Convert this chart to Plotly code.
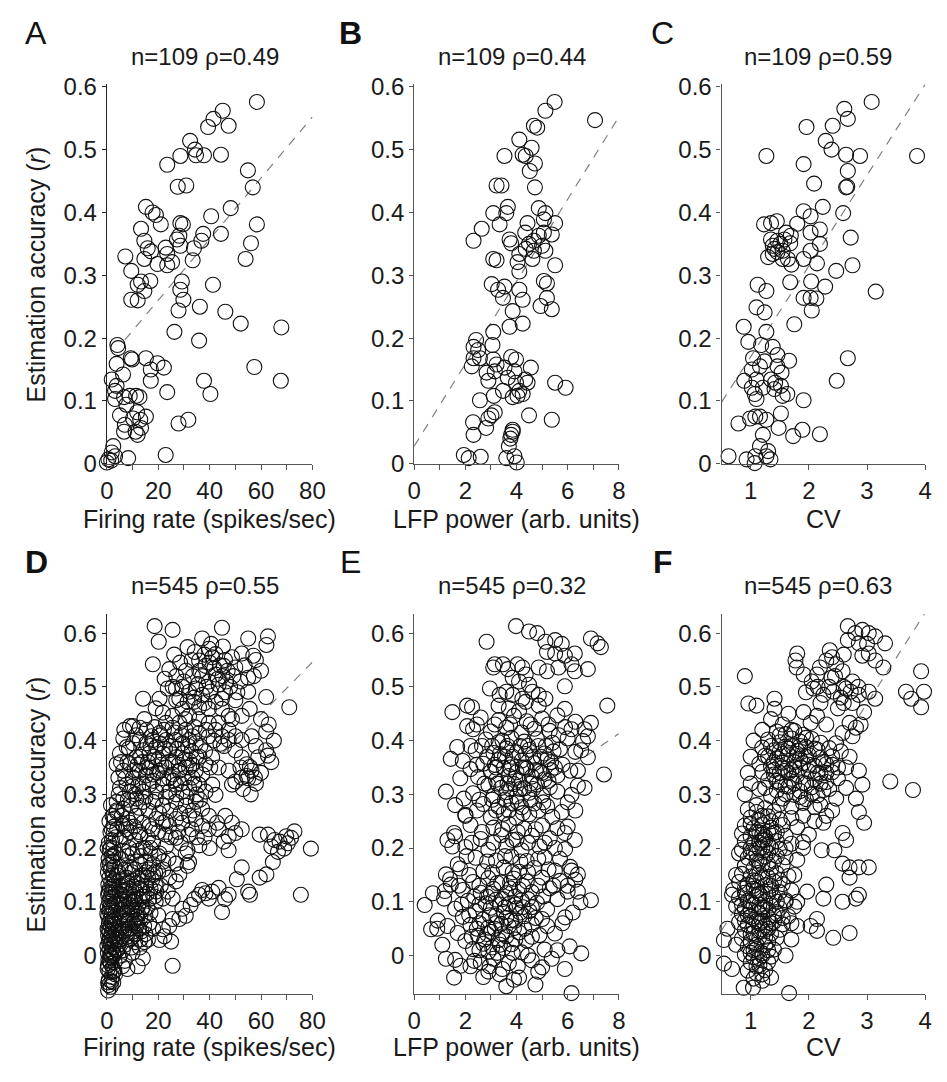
import plotly.graph_objects as go

# ---------------- data ----------------
a_pts = [(58.4,0.576),(45.1,0.562),(41.5,0.549),(47.4,0.538),(39.4,0.536),(32.4,0.514),(34.3,0.500),(34.7,0.491),(37.8,0.491),(28.6,0.490),(44.4,0.492),(23.5,0.476),(54.9,0.467),(27.6,0.441),(30.9,0.443),(56.8,0.440),(15.2,0.409),(17.8,0.400),(19.1,0.396),(48.2,0.407),(40.6,0.394),(21.0,0.381),(13.3,0.374),(28.6,0.383),(29.6,0.381),(58.4,0.381),(44.4,0.366),(37.5,0.366),(28.2,0.363),(27.3,0.357),(14.6,0.355),(36.8,0.355),(56.1,0.351),(15.9,0.343),(22.9,0.344),(33.9,0.343),(17.2,0.338),(28.6,0.347),(7.2,0.330),(14.6,0.326),(54.0,0.326),(33.4,0.324),(19.7,0.318),(23.5,0.316),(25.4,0.321),(9.5,0.307),(13.3,0.290),(16.9,0.291),(29.2,0.290),(41.3,0.285),(12.0,0.285),(14.6,0.275),(28.6,0.277),(9.5,0.261),(12.0,0.260),(29.8,0.261),(36.2,0.250),(27.9,0.244),(46.1,0.242),(52.1,0.223),(67.9,0.217),(26.3,0.210),(35.9,0.196),(4.1,0.189),(4.4,0.184),(9.3,0.168),(9.8,0.166),(15.2,0.168),(19.7,0.160),(3.8,0.159),(22.2,0.153),(17.1,0.150),(57.4,0.154),(17.1,0.132),(1.9,0.134),(3.8,0.124),(37.8,0.132),(67.7,0.132),(3.2,0.116),(23.5,0.114),(40.3,0.111),(3.2,0.103),(6.7,0.106),(8.9,0.108),(11.4,0.108),(12.7,0.106),(5.1,0.077),(10.2,0.072),(15.2,0.075),(13.0,0.070),(7.0,0.062),(27.9,0.064),(31.7,0.070),(6.7,0.051),(11.2,0.051),(13.3,0.057),(12.0,0.046),(2.5,0.028),(8.3,0.009),(22.9,0.014),(1.9,0.018),(0.6,0.007),(0.0,0.002),(1.7,0.005),(3.2,0.012),(6.3,0.142),(7.6,0.094),(23.5,0.334),(11.8,0.082)]

b_pts = [(5.49,0.576),(5.13,0.562),(7.07,0.547),(4.68,0.538),(4.81,0.535),(4.11,0.516),(4.59,0.503),(4.24,0.492),(4.36,0.490),(3.53,0.490),(4.72,0.478),(4.52,0.466),(4.72,0.440),(3.22,0.443),(3.41,0.443),(4.87,0.407),(3.66,0.409),(5.13,0.399),(3.09,0.399),(3.60,0.399),(4.43,0.383),(5.51,0.383),(5.07,0.389),(3.34,0.381),(2.64,0.374),(4.34,0.368),(5.38,0.365),(3.73,0.357),(2.32,0.355),(4.87,0.363),(4.68,0.355),(3.79,0.351),(4.49,0.350),(5.00,0.347),(4.36,0.342),(5.13,0.339),(4.11,0.334),(4.62,0.326),(3.09,0.326),(3.22,0.324),(4.04,0.321),(5.51,0.316),(4.11,0.306),(5.07,0.291),(5.19,0.287),(3.03,0.286),(3.28,0.277),(3.53,0.282),(4.11,0.277),(4.24,0.261),(3.47,0.264),(5.19,0.264),(4.94,0.251),(5.38,0.246),(3.85,0.243),(4.24,0.223),(3.73,0.218),(3.09,0.210),(2.42,0.197),(2.32,0.186),(3.06,0.189),(2.32,0.168),(2.57,0.168),(3.79,0.170),(3.98,0.166),(3.09,0.166),(3.22,0.158),(4.56,0.153),(2.25,0.155),(2.83,0.145),(3.15,0.147),(2.90,0.132),(3.66,0.137),(3.98,0.129),(5.51,0.129),(5.92,0.121),(3.47,0.116),(4.11,0.116),(4.24,0.111),(3.85,0.106),(4.04,0.108),(2.57,0.101),(3.11,0.108),(3.02,0.077),(3.15,0.082),(4.49,0.077),(5.38,0.070),(2.30,0.066),(2.90,0.072),(2.81,0.057),(2.32,0.046),(3.85,0.054),(3.79,0.046),(3.76,0.040),(3.70,0.028),(1.94,0.014),(2.13,0.009),(2.60,0.011),(3.60,0.009),(3.92,0.012),(4.01,0.002),(4.43,0.129),(3.92,0.147),(4.34,0.134),(4.68,0.339),(5.07,0.368),(2.50,0.181),(3.53,0.153),(3.85,0.051)]

c_pts = [(3.08,0.576),(2.61,0.565),(2.67,0.549),(2.41,0.538),(1.96,0.536),(2.29,0.514),(2.39,0.500),(2.64,0.492),(2.88,0.490),(3.86,0.490),(1.27,0.490),(1.91,0.477),(2.67,0.466),(2.64,0.440),(2.66,0.441),(2.09,0.446),(2.24,0.409),(1.91,0.402),(2.03,0.394),(2.59,0.399),(1.23,0.381),(1.35,0.383),(1.45,0.386),(1.80,0.382),(2.19,0.373),(2.72,0.360),(1.61,0.368),(1.69,0.363),(1.35,0.357),(1.46,0.355),(1.58,0.357),(1.38,0.347),(1.51,0.350),(1.68,0.351),(2.19,0.350),(1.41,0.342),(1.55,0.339),(2.03,0.339),(1.30,0.329),(1.38,0.334),(1.46,0.337),(1.64,0.326),(1.91,0.326),(1.70,0.317),(2.14,0.319),(2.75,0.316),(2.47,0.307),(1.12,0.285),(1.68,0.289),(2.04,0.290),(1.27,0.275),(3.15,0.274),(2.28,0.282),(1.91,0.264),(2.03,0.264),(2.13,0.263),(1.10,0.249),(1.24,0.241),(2.05,0.244),(1.75,0.222),(0.88,0.218),(0.96,0.194),(1.27,0.210),(1.18,0.189),(1.38,0.186),(1.04,0.168),(1.46,0.173),(1.66,0.164),(2.67,0.168),(1.16,0.155),(1.46,0.155),(1.02,0.150),(0.89,0.132),(1.10,0.134),(1.35,0.134),(2.48,0.132),(1.02,0.121),(1.21,0.121),(1.41,0.119),(1.07,0.111),(1.55,0.108),(1.63,0.111),(1.91,0.101),(1.10,0.103),(1.52,0.080),(0.79,0.064),(0.99,0.072),(1.08,0.075),(1.16,0.075),(1.27,0.070),(1.48,0.057),(1.73,0.044),(1.89,0.054),(2.19,0.047),(1.21,0.046),(1.16,0.028),(0.62,0.012),(0.93,0.007),(1.08,0.012),(1.07,0.001),(1.27,0.012),(1.34,0.007),(1.30,0.020),(1.52,0.124),(1.24,0.163),(1.53,0.145),(1.55,0.326),(1.42,0.129),(2.03,0.368)]

d_pts = [
(0.5,-0.065),(1.5,-0.058),(2.5,-0.05),(0.8,-0.045),(2,-0.04),(3.2,-0.035),(1,-0.03),(0.3,-0.025),(2.2,-0.022),(1.5,-0.015),(3,-0.012),(0.6,-0.008),(2,-0.005),(1.2,0),(2.8,0.002),(0.4,0.005),(1.8,0.008),(3.5,0.01),(1,0.012),(2.4,0.015),(0.2,0.018),(1.5,0.02),(3,0.022),(0.8,0.025),(2,0.028),(1.2,0.032),(2.8,0.035),(0.5,0.038),(1.8,0.04),(3.6,0.042),(1,0.045),(2.3,0.048),(0.3,0.05),(1.5,0.055),(3,0.058),(0.8,0.06),(2,0.063),(1.3,0.067),(2.7,0.07),(0.5,0.073),(1.8,0.076),(3.4,0.08),(1,0.083),(2.4,0.086),(0.3,0.09),(1.6,0.093),(3,0.096),(0.9,0.1),(2.1,0.103),(1.4,0.107),(2.8,0.11),(0.5,0.113),(1.9,0.117),(3.5,0.12),(1.1,0.124),(2.5,0.128),(0.6,0.132),(1.7,0.136),(3.1,0.14),(1,0.145),(2.3,0.15),(0.4,0.155),(1.6,0.16),(2.9,0.165),(1.2,0.17),(2.2,0.175),(0.7,0.18),(1.8,0.185),(3.3,0.19),(1.1,0.196),(2.5,0.2),(0.8,0.21),(2,0.215),(3.5,0.22),(1.4,0.23),(2.8,0.24),(1,0.25),(2.2,0.26),(3.8,0.27),(1.6,0.28),(0.5,-0.05),(2.6,-0.03),(1.5,0.0),(0.9,0.03),(2.2,0.06),(1.2,0.09),(2.6,0.14),(1.4,0.2),
(0.7,-0.055),(1.8,-0.048),(2.9,-0.028),(0.4,-0.018),(1.1,-0.01),(2.5,0.005),(3.8,0.03),(0.6,0.047),(2.9,0.066),(0.2,0.078),(3.8,0.1),(0.7,0.118),(2.2,0.122),(3.9,0.15),(0.5,0.168),(2.6,0.185),(0.3,0.2),(1.9,0.235),(3.1,0.255),
(4,0.01),(6,-0.02),(8,-0.025),(5,0.03),(7,0.02),(9,0.03),(11,0.025),(13,0.03),(15,0.04),(4.5,0.05),(6.5,0.045),(8.5,0.05),(10.5,0.045),(12.5,0.05),(14.5,0.055),(16.5,0.06),(5,0.07),(7,0.065),(9,0.07),(11,0.065),(13,0.07),(15,0.075),(17,0.08),(6,0.085),(8,0.08),(10,0.085),(12,0.08),(14,0.09),(4.5,0.095),(6.5,0.1),(8.5,0.095),(10.5,0.1),(12.5,0.105),(14.5,0.11),(16.5,0.105),(18.5,0.11),(5,0.115),(7,0.12),(9,0.115),(11,0.12),(13,0.125),(15,0.13),(17,0.125),(19,0.13),(6,0.14),(8,0.135),(10,0.14),(12,0.145),(14,0.15),(16,0.145),(4.5,0.155),(7,0.16),(9,0.165),(11,0.16),(13,0.17),(15,0.175),(18,0.17),(5.5,0.18),(8,0.185),(10,0.19),(12,0.195),(14,0.2),(17,0.19),(20,0.185),(9,0.05),(11.5,0.055),(10,0.035),(12,0.06),(8,0.06),(13.5,0.045),(7.5,0.04),(9.5,0.09),(11,0.105),(6,0.13),(5,0.0),(7,-0.01),(18,0.05),(20,0.075),(16,0.03),(14,-0.005),(12,-0.02),(10,0.005),(19,0.1),(21,0.13),(22,0.16),(20,0.155),
(4.5,0.02),(6.2,0.01),(7.8,0.035),(9.6,0.015),(11.2,0.04),(12.8,0.015),(14.6,0.025),(5.2,0.06),(6.8,0.075),(8.4,0.065),(10.2,0.06),(11.8,0.072),(13.6,0.085),(15.8,0.09),(5.6,0.105),(7.4,0.09),(9.2,0.1),(10.8,0.085),(12.2,0.092),(13.8,0.11),(15.6,0.115),(17.6,0.14),(4.8,0.13),(6.6,0.122),(8.6,0.125),(10.4,0.128),(11.8,0.135),(13.4,0.14),(16.4,0.16),(18.8,0.155),(5.2,0.165),(7.6,0.145),(9.8,0.155),(11.6,0.175),(6.4,0.195),(8.8,0.2),(13.2,0.185),(15.4,0.155),(10.4,0.11),(8.2,0.105),(12.6,0.125),(7.2,0.05),
(5,0.215),(7,0.22),(4,0.235),(6,0.245),(9,0.23),(11,0.215),(13,0.225),(8,0.255),(16,0.22),(18,0.21),(15,0.2),
(6.4,0.404),(10.2,0.427),(12.8,0.424),(15.4,0.42),(17.3,0.408),(20.5,0.414),(23,0.433),(25.6,0.424),(28.2,0.433),(30.7,0.42),(33.3,0.408),(35.9,0.414),(39.7,0.408),(42.3,0.42),(44.8,0.408),(47.4,0.42),(50,0.408),(52.5,0.401),(56.3,0.408),(62,0.417),(62,0.382),(62.7,0.372),(58.9,0.369),(54.4,0.356),(56.3,0.344),(54.4,0.334),(55.7,0.351),(57.6,0.331),(52.5,0.331),(50,0.324),(48.7,0.318),(47.4,0.344),(43.5,0.35),(41,0.369),(38.4,0.356),(37.1,0.337),(34.6,0.344),(32,0.363),(29.4,0.376),(26.9,0.369),(24.3,0.382),(21.8,0.376),(19.2,0.388),(16.6,0.376),(14.1,0.382),(11.5,0.369),(9,0.356),(6.4,0.344),(4.5,0.331),(5.1,0.312),(7.7,0.318),(10.2,0.331),(12.8,0.344),(15.4,0.35),(17.9,0.337),(20.5,0.344),(23,0.35),(25.6,0.337),(28.2,0.344),(30.7,0.35),(33.3,0.331),(35.9,0.318),(38.4,0.305),(41,0.318),(42.3,0.299),(32,0.312),(29.4,0.305),(26.9,0.318),(24.3,0.305),(21.8,0.318),(19.2,0.305),(16.6,0.318),(14.1,0.305),(11.5,0.292),(9,0.305),(6.4,0.292),(3.8,0.286),(3.8,0.267),(6.4,0.273),(9.6,0.279),(14.1,0.286),(17.9,0.286),(21.8,0.279),(26.9,0.286),(30.7,0.279),(34.6,0.286),(37.1,0.273),(39.7,0.26),(42.9,0.247),(46.1,0.26),(48.7,0.247),(52.5,0.235),(50,0.228),(47.4,0.222),(45.5,0.212),(47.4,0.196),(43.5,0.235),(39.7,0.235),(37.1,0.241),(34.6,0.254),(32,0.26),(29.4,0.247),(26.9,0.254),(24.3,0.241),(21.8,0.247),(19.2,0.254),(16.6,0.241),(14.1,0.247),(11.5,0.26),(9,0.247),(6.4,0.241),
(9,0.427),(29.4,0.459),(25.6,0.446),(21.8,0.452),(32,0.446),(35.9,0.44),(39.7,0.433),(43.5,0.433),(48.7,0.44),(39.7,0.459),(44.2,0.394),(50,0.382),(52.5,0.369),(47.4,0.401),(34.6,0.395),(32,0.401),(29.4,0.395),(26.9,0.401),(23,0.401),(20.5,0.395),(17.9,0.401),(15.4,0.395),(12.8,0.401),(10.2,0.395),(7.7,0.388),(5.1,0.376),(3.8,0.356),
(8,0.36),(12,0.355),(16,0.36),(20,0.365),(24,0.36),(28,0.355),(32,0.35),(10,0.315),(14,0.32),(18,0.325),(22,0.33),(26,0.325),(30,0.33),(34,0.32),(13,0.37),(17,0.39),(21,0.41),(25,0.39),(29,0.41),(33,0.38),(36,0.37),(11,0.3),(15,0.295),(19,0.29),(23,0.295),(27,0.3),(31,0.295),(35,0.3),
(5.5,0.36),(7.2,0.33),(8.6,0.385),(10.8,0.345),(12.2,0.315),(13.8,0.36),(15.2,0.335),(16.8,0.35),(18.4,0.37),(19.6,0.34),(21.2,0.355),(22.6,0.385),(24.2,0.33),(25.8,0.36),(27.4,0.385),(28.8,0.32),(30.2,0.365),(31.6,0.39),(33.2,0.355),(34.8,0.37),(36.4,0.39),(38.2,0.38),(40.2,0.35),(8.2,0.29),(12.6,0.275),(16.2,0.27),(20.4,0.265),(24.6,0.27),(28.6,0.265),(33.6,0.27),(36.2,0.29),(6.8,0.42),(11.4,0.41),(14.6,0.44),(18.6,0.425),(22.2,0.42),(26.4,0.415),(30.6,0.44),(34.2,0.425),(38.6,0.42),(41.6,0.4),(45.6,0.39),(4.6,0.3),(5.8,0.26),(7.6,0.235),(10.6,0.24),(12.4,0.23),(17.8,0.235),(22.8,0.225),(27.8,0.23),(31.8,0.225),
(14.1,0.478),(20.5,0.478),(23.7,0.497),(25.6,0.5),(19,0.46),(27,0.475),
(25,0.638),(18.6,0.613),(25.6,0.606),(20.2,0.584),(17.9,0.542),(24.3,0.533),(31.4,0.574),(37.1,0.59),(39.7,0.571),(35.9,0.549),(38.4,0.539),(42.3,0.561),(44.8,0.61),(45.5,0.539),(48.7,0.555),(50,0.536),(52.5,0.562),(55,0.59),(57,0.558),(62.7,0.594),(62.1,0.578),(55,0.517),(42.3,0.523),(39.7,0.51),(37.1,0.52),(43.5,0.504),(40.3,0.491),(44.8,0.478),(37.1,0.485),(34.6,0.497),(32,0.491),(29.4,0.5),(26.9,0.497),(28.2,0.478),(31.4,0.472),(33.9,0.472),(35.9,0.462),(42.3,0.472),(50,0.475),(55,0.491),(55.6,0.459),(52.5,0.446),(62,0.481),(71,0.462),(44.8,0.459),(47.4,0.446),
(36,0.53),(40,0.545),(44,0.54),(47,0.53),(41,0.555),(38,0.56),(46,0.55),(33,0.55),(30,0.51),(27,0.52),(45,0.52),(48,0.5),(52,0.51),(58,0.55),(60,0.53),(34,0.48),(38,0.47),(46,0.49),
(33.5,0.52),(35.5,0.505),(38.8,0.5),(41.8,0.535),(43.2,0.515),(46.4,0.51),(49.2,0.52),(30.8,0.53),(28.5,0.545),(34.2,0.565),(45.2,0.575),(40.6,0.58),(50.8,0.49),(53.6,0.54),(57.2,0.52),(22.5,0.515),(26.2,0.56),
(63,0.43),(60,0.44),(65,0.4),(58,0.39),(64,0.36),(60,0.34),(56,0.3),(53,0.31),(58,0.32),(55,0.33),(52,0.35),
(59.5,0.225),(62.7,0.225),(65.3,0.215),(64,0.203),(67.2,0.212),(66.6,0.193),(64.6,0.174),(69.8,0.222),(73,0.231),(71.7,0.219),(70.4,0.209),(69,0.199),(79.4,0.199),(75.5,0.113),(52.5,0.164),(50.6,0.142),(59.5,0.145),(62.1,0.151),(55,0.119),(55.7,0.113),(47.4,0.113),(43.5,0.126),(41,0.119),(38.4,0.116),(37.1,0.122),(35.9,0.113),(39.7,0.106),(44.8,0.081),(32.6,0.094),(29.4,0.087),(30.7,0.074),(28.2,0.068),(25.6,0.068),(24.3,0.055),(22.4,0.036),(25,0.026),(25.6,-0.019),(20.5,0.029),(21.8,0.049),(34,0.105),(46,0.105),
(28.8,0.209),(31.4,0.196),(26.9,0.219),(23,0.203),(20.5,0.19),(31.4,0.167),(26.9,0.171),(28.2,0.151),(32,0.174),(30.7,0.19),(26.9,0.138),(23.7,0.119),(25.6,0.106),(21.8,0.106),(19.2,0.119),(24.3,0.145),(22,0.175),(18,0.15),(24,0.18),(17,0.2),(20,0.23),(23,0.25),(25,0.22),(35,0.22),(38,0.22),(33,0.235),(40,0.2),(36,0.205)]

e_pts = [
(2.6,0.443),(3.3,0.438),(3.9,0.446),(4.4,0.436),(5.0,0.441),(5.6,0.447),(6.3,0.435),
(2.3,0.421),(3.0,0.417),(3.6,0.424),(4.2,0.415),(4.7,0.422),(5.3,0.418),(5.9,0.425),
(2.8,0.402),(3.3,0.397),(3.8,0.405),(4.3,0.398),(4.8,0.403),(5.4,0.396),(6.0,0.404),(6.6,0.399),
(2.4,0.382),(3.1,0.377),(3.6,0.385),(4.0,0.378),(4.5,0.383),(5.1,0.376),(5.7,0.384),(6.3,0.379),
(1.9,0.362),(2.7,0.357),(3.3,0.364),(3.8,0.356),(4.2,0.363),(4.7,0.358),(5.2,0.365),(5.8,0.355),
(2.2,0.347),(3.0,0.342),(3.5,0.349),(4.0,0.341),(4.4,0.348),(4.9,0.343),(5.5,0.35),(6.1,0.344),
(2.5,0.332),(3.2,0.327),(3.7,0.334),(4.1,0.326),(4.6,0.333),(5.1,0.328),(5.6,0.335),
(2.9,0.317),(3.4,0.312),(3.9,0.319),(4.3,0.311),(4.8,0.318),(5.3,0.313),(6.4,0.316),
(2.3,0.302),(3.1,0.297),(3.6,0.304),(4.0,0.296),(4.5,0.303),(5.0,0.298),(5.6,0.305),
(2.7,0.282),(3.3,0.277),(3.8,0.284),(4.2,0.276),(4.7,0.283),(5.2,0.278),(6.0,0.285),
(2.0,0.262),(3.0,0.257),(3.5,0.264),(4.0,0.256),(4.5,0.263),(5.4,0.258),
(3.55,0.37),(4.15,0.39),(4.65,0.37),(3.95,0.33),(4.35,0.35),(3.45,0.4),(4.85,0.39),(5.35,0.36),(3.75,0.31),(4.55,0.32),(3.2,0.35),(5.0,0.34),
(2.45,0.43),(3.15,0.43),(3.75,0.43),(4.55,0.43),(5.25,0.43),(2.65,0.39),(3.05,0.39),(3.65,0.39),(4.45,0.39),(5.15,0.39),(5.65,0.41),(2.85,0.37),(3.35,0.375),(3.85,0.37),(4.35,0.375),(4.95,0.37),(5.45,0.38),(2.45,0.355),(3.15,0.355),(3.75,0.35),(4.25,0.35),(4.75,0.345),(5.35,0.345),(2.75,0.32),(3.25,0.32),(3.65,0.32),(4.15,0.31),(4.65,0.31),(5.25,0.325),(2.55,0.29),(3.05,0.29),(3.55,0.29),(4.05,0.285),(4.55,0.29),(5.05,0.285),(2.45,0.27),(3.2,0.27),(3.7,0.27),(4.25,0.265),(4.85,0.27),
(2.2,0.243),(3.1,0.238),(3.7,0.245),(4.3,0.236),(5.0,0.242),(5.6,0.237),
(1.6,0.222),(2.6,0.217),(3.4,0.224),(4.0,0.216),(4.6,0.223),(5.3,0.218),
(2.0,0.202),(2.9,0.197),(3.6,0.204),(4.2,0.196),(4.9,0.203),(5.9,0.198),
(2.4,0.182),(3.2,0.177),(3.8,0.184),(4.4,0.176),(5.1,0.183),
(1.8,0.162),(2.7,0.157),(3.5,0.164),(4.1,0.156),(4.7,0.163),(5.5,0.158),(6.1,0.165),
(2.65,0.23),(3.45,0.235),(4.05,0.23),(4.75,0.235),(2.25,0.21),(3.1,0.21),(3.85,0.215),(4.45,0.21),(5.1,0.21),(2.05,0.185),(2.85,0.175),(3.55,0.185),(4.15,0.175),(4.85,0.18),(5.5,0.2),(2.15,0.15),(3.05,0.155),(3.85,0.155),(4.45,0.155),(5.25,0.16),
(1.4,0.142),(2.3,0.137),(2.9,0.144),(3.4,0.136),(3.9,0.143),(4.4,0.138),(5.0,0.145),(5.7,0.139),(6.3,0.141),
(1.9,0.122),(2.6,0.117),(3.1,0.124),(3.6,0.116),(4.1,0.123),(4.6,0.118),(5.3,0.125),(6.0,0.119),
(2.1,0.102),(2.8,0.097),(3.2,0.104),(3.7,0.096),(4.2,0.103),(4.8,0.098),(5.6,0.105),(6.5,0.099),
(1.6,0.087),(2.4,0.082),(3.0,0.089),(3.5,0.081),(4.0,0.088),(4.5,0.083),(5.2,0.086),
(1.9,0.072),(2.7,0.067),(3.2,0.074),(3.8,0.066),(4.3,0.073),(5.0,0.068),(5.9,0.071),
(2.2,0.057),(2.9,0.052),(3.4,0.059),(3.9,0.051),(4.6,0.058),
(1.7,0.042),(2.5,0.037),(3.0,0.044),(3.6,0.036),(4.1,0.043),(4.9,0.038),(5.5,0.041),
(2.0,0.027),(2.7,0.022),(3.3,0.029),(3.8,0.021),(4.4,0.028),
(2.3,0.012),(2.9,0.007),(3.5,0.014),(4.2,0.006),(5.1,0.011),
(1.6,-0.008),(2.6,-0.013),(3.1,-0.006),(3.7,-0.014),(4.6,-0.009),
(2.75,0.03),(3.15,0.05),(3.55,0.09),(2.85,0.11),(3.35,0.02),(3.95,0.065),(2.55,0.06),(3.75,0.125),(4.25,0.09),(3.05,0.015),
(1.75,0.13),(2.55,0.13),(3.25,0.135),(3.75,0.135),(4.25,0.13),(4.85,0.13),(5.45,0.13),(2.35,0.11),(3.0,0.115),(3.45,0.105),(3.95,0.11),(4.45,0.105),(5.05,0.11),(1.85,0.095),(2.55,0.095),(3.35,0.095),(3.95,0.095),(4.6,0.09),(2.15,0.075),(2.95,0.075),(3.6,0.07),(4.15,0.08),(4.75,0.07),(2.45,0.05),(3.2,0.06),(3.7,0.055),(4.3,0.05),(5.2,0.055),(2.25,0.035),(2.85,0.04),(3.45,0.04),(3.95,0.03),(4.6,0.035),(2.55,0.01),(3.25,0.005),(3.85,0.005),(4.45,0.0),(2.35,-0.01),(2.95,-0.02),(3.45,-0.025),(4.05,-0.02),(4.85,-0.03),(2.7,-0.04),(3.9,-0.045),
(3.85,0.638),(3.98,0.613),(4.49,0.603),(4.81,0.600),(2.83,0.584),(5.13,0.584),(5.51,0.587),(5.77,0.58),(5.19,0.565),(5.51,0.562),(5.89,0.558),(6.28,0.562),(6.91,0.59),(7.17,0.581),(7.3,0.574),(6.79,0.533),(7.55,0.465),(6.91,0.433),(6.66,0.421),(6.79,0.408),(7.42,0.337),
(3.15,0.542),(3.47,0.542),(3.66,0.533),(4.04,0.542),(4.23,0.536),(4.36,0.523),(3.85,0.517),(4.1,0.51),(4.49,0.504),(4.62,0.491),(3.6,0.491),(3.34,0.485),(3.85,0.485),(4.23,0.478),(4.87,0.485),(5.13,0.478),(5.89,0.501),(4.87,0.465),(4.36,0.472),(2.96,0.497),(3.09,0.536),(4.87,0.536),(5.19,0.529),(5.64,0.536),(6.15,0.542),(6.28,0.529),(3.7,0.46),(4.1,0.455),(3.3,0.465),
(1.49,0.453),(2.07,0.465),(2.26,0.462),(2.07,0.427),(1.68,0.388),(1.43,0.366),(1.24,0.305),(1.94,0.292),(2.0,0.26),(1.56,0.228),(1.3,0.215),(1.49,0.203),(1.24,0.151),(1.43,0.132),(0.41,0.094),(0.73,0.116),(1.17,0.106),(0.92,0.065),(0.66,0.049),(1.3,0.055),(1.24,-0.006),(1.56,-0.041),(1.81,-0.019),
(5.89,0.459),(6.15,0.421),(6.53,0.382),(6.79,0.369),(6.4,0.344),(6.66,0.312),(6.15,0.299),(5.77,0.267),(6.28,0.215),(5.89,0.228),(6.4,0.151),(6.15,0.158),(6.91,0.103),(6.4,0.119),(6.08,0.017),(6.53,0.004),(5.89,-0.025),(6.15,-0.07),(5.38,-0.006),(5.0,-0.022),(4.74,-0.054),(4.1,-0.041),(3.6,-0.057),(3.34,-0.035),(2.9,-0.03),(2.2,-0.02),(5.6,0.01),(5.8,0.06),(6.2,0.08),(6.0,0.13),(5.7,0.18),(6.0,0.24),(6.3,0.27),(1.8,0.33),(1.6,0.28),(2.2,0.39),(1.7,0.17),(1.2,0.12),(0.9,0.05),(1.1,0.02)]

f_pts = [
(1.45,0.417),(1.6,0.412),(1.75,0.418),(1.9,0.411),
(1.3,0.402),(1.5,0.397),(1.7,0.404),(1.85,0.398),(2.05,0.403),(2.2,0.396),
(1.2,0.387),(1.4,0.382),(1.6,0.389),(1.8,0.381),(1.95,0.388),(2.15,0.383),(2.35,0.386),
(1.25,0.372),(1.45,0.367),(1.65,0.374),(1.85,0.366),(2.0,0.373),(2.2,0.368),(2.4,0.371),
(1.15,0.357),(1.35,0.352),(1.55,0.359),(1.75,0.351),(1.9,0.358),(2.1,0.353),(2.3,0.356),(2.5,0.35),
(1.2,0.342),(1.4,0.337),(1.6,0.344),(1.8,0.336),(2.0,0.343),(2.2,0.338),(2.4,0.341),
(1.3,0.327),(1.5,0.322),(1.7,0.329),(1.9,0.321),(2.1,0.328),(2.3,0.323),
(1.25,0.312),(1.45,0.307),(1.65,0.314),(1.85,0.306),(2.05,0.313),(2.25,0.308),
(1.35,0.297),(1.55,0.292),(1.75,0.299),(1.95,0.291),(2.15,0.298),
(1.5,0.282),(1.7,0.277),(1.9,0.284),(2.1,0.276),
(1.55,0.375),(1.75,0.36),(1.4,0.36),(1.95,0.37),(1.65,0.34),(1.85,0.39),(2.0,0.355),(1.5,0.34),(1.7,0.39),(2.25,0.36),
(1.35,0.39),(1.5,0.38),(1.65,0.385),(1.8,0.375),(1.4,0.345),(1.55,0.35),(1.7,0.345),(1.85,0.35),(1.45,0.325),(1.6,0.315),(1.75,0.32),(1.95,0.32),(2.15,0.34),(2.3,0.34),(1.3,0.37),(1.5,0.41),(1.7,0.42),(1.95,0.405),(2.1,0.385),(1.6,0.3),(1.85,0.295),(2.05,0.3),(2.4,0.355),(2.55,0.38),(2.35,0.31),(2.2,0.32),
(1.35,0.44),(1.2,0.42),(1.55,0.43),(1.05,0.40),(0.95,0.34),(0.9,0.30),(1.0,0.32),(1.1,0.28),(1.65,0.45),(1.0,0.37),(1.15,0.31),
(0.95,0.272),(1.1,0.267),(1.25,0.274),(1.4,0.268),
(1.0,0.257),(1.15,0.252),(1.3,0.259),(1.5,0.253),(1.7,0.256),
(0.9,0.242),(1.05,0.237),(1.2,0.244),(1.35,0.238),(1.55,0.243),(1.8,0.239),
(0.85,0.227),(1.0,0.222),(1.15,0.229),(1.25,0.221),(1.4,0.228),(1.6,0.223),
(0.9,0.212),(1.05,0.207),(1.2,0.214),(1.3,0.206),(1.45,0.213),(1.7,0.208),(1.9,0.211),
(0.85,0.197),(1.0,0.192),(1.15,0.199),(1.3,0.191),(1.5,0.198),
(0.95,0.182),(1.1,0.177),(1.25,0.184),(1.4,0.176),(1.6,0.183),(1.8,0.178),
(0.9,0.167),(1.05,0.162),(1.2,0.169),(1.35,0.161),(1.55,0.168),
(1.2,0.225),(1.25,0.215),(1.15,0.21),(1.3,0.23),
(1.0,0.2),(1.1,0.19),(1.2,0.2),(1.35,0.2),(1.1,0.23),(1.35,0.25),(1.2,0.26),(1.45,0.23),(1.0,0.245),(1.15,0.175),(1.3,0.17),(1.45,0.185),(1.6,0.2),
(0.85,0.152),(1.0,0.147),(1.15,0.154),(1.3,0.146),(1.45,0.153),(1.65,0.148),
(0.8,0.137),(0.95,0.132),(1.1,0.139),(1.25,0.131),(1.4,0.138),(1.55,0.133),
(0.7,0.122),(0.9,0.117),(1.05,0.124),(1.2,0.116),(1.35,0.123),(1.5,0.118),(1.7,0.121),
(0.8,0.107),(0.95,0.102),(1.1,0.109),(1.25,0.101),(1.4,0.108),(1.6,0.103),
(0.75,0.092),(0.9,0.087),(1.05,0.094),(1.2,0.086),(1.35,0.093),(1.5,0.088),(1.75,0.091),
(0.85,0.077),(1.0,0.072),(1.15,0.079),(1.3,0.071),(1.45,0.078),(1.65,0.073),
(0.8,0.062),(0.95,0.057),(1.1,0.064),(1.25,0.056),(1.4,0.063),(1.55,0.058),
(0.9,0.047),(1.05,0.042),(1.2,0.049),(1.35,0.041),(1.5,0.048),
(0.85,0.032),(1.0,0.027),(1.15,0.034),(1.3,0.026),(1.45,0.033),
(0.95,0.017),(1.1,0.012),(1.25,0.019),(1.4,0.011),
(0.9,0.002),(1.05,-0.003),(1.2,0.004),(1.35,-0.002),
(1.0,-0.013),(1.15,-0.018),(1.3,-0.012),
(0.95,-0.028),(1.1,-0.033),(1.25,-0.027),
(1.05,-0.043),(1.2,-0.047),
(1.0,0.1),(1.15,0.06),(1.1,0.02),(1.05,0.13),(1.2,0.09),(1.3,0.05),(0.95,0.075),(1.15,0.115),
(1.05,0.14),(1.2,0.145),(1.35,0.13),(1.5,0.14),(0.9,0.125),(1.1,0.12),(1.3,0.115),(1.45,0.1),(0.85,0.095),(1.0,0.085),(1.15,0.095),(1.3,0.085),(1.4,0.075),(0.9,0.065),(1.05,0.055),(1.2,0.065),(1.35,0.06),(1.0,0.04),(1.15,0.045),(1.25,0.035),(1.05,0.01),(1.2,0.0),(1.3,0.01),(1.1,-0.02),(1.2,-0.035),(1.0,0.005),(1.15,-0.005),(1.6,0.1),(1.55,0.07),(1.7,0.06),
(2.92,0.638),(2.67,0.613),(2.92,0.606),(3.03,0.6),(3.14,0.594),(3.31,0.581),(2.86,0.581),(2.67,0.587),(3.03,0.562),(2.92,0.558),(3.14,0.549),(3.28,0.536),(2.36,0.568),(2.3,0.549),(2.47,0.542),(2.58,0.529),(2.19,0.536),(2.14,0.523),(2.39,0.517),(1.8,0.562),(1.77,0.549),(1.79,0.536),(1.91,0.523),(2.05,0.51),(2.08,0.497),(2.25,0.485),(2.42,0.491),(2.64,0.497),(2.72,0.491),(2.86,0.485),(3.03,0.491),(3.14,0.478),(0.9,0.52),(0.96,0.469),(1.1,0.465),(1.41,0.478),(1.41,0.459),(3.93,0.529),(3.67,0.491),(3.76,0.478),(3.93,0.462),(3.98,0.491),(3.4,0.324),(3.79,0.308),
(2.45,0.52),(2.6,0.5),(2.75,0.51),(2.85,0.5),(2.35,0.5),(2.55,0.48),(2.75,0.47),(2.4,0.555),(2.6,0.56),(2.8,0.6),(3.0,0.58),(2.15,0.5),(1.95,0.49),
(2.7,0.433),(2.81,0.424),(2.89,0.43),(2.58,0.414),(2.75,0.408),(2.47,0.395),(2.95,0.453),(2.14,0.446),(2.03,0.433),(1.91,0.453),(2.3,0.43),(2.5,0.46),(2.2,0.47),(2.6,0.47),
(2.64,0.35),(2.86,0.344),(2.92,0.318),(2.81,0.292),(2.86,0.267),(2.95,0.247),(2.64,0.312),(2.47,0.292),(2.3,0.26),(2.25,0.247),(2.58,0.228),(2.64,0.215),(2.5,0.33),(2.7,0.37),(2.4,0.27),(2.1,0.25),(2.0,0.225),(1.9,0.26),(2.2,0.28),
(2.22,0.196),(2.44,0.196),(2.58,0.171),(2.7,0.164),(3.03,0.164),(2.86,0.164),(2.7,0.145),(1.97,0.119),(2.3,0.132),(2.25,0.106),(2.58,0.1),(2.86,0.113),(2.81,0.106),(2.7,0.042),(2.42,0.033),(2.14,0.046),(2.03,0.055),(2.14,0.068),(1.8,0.055),(1.9,0.2),(1.75,0.15),(1.8,0.1),(1.7,0.03),(1.6,0.0),
(0.54,0.029),(0.54,-0.015),(0.68,-0.025),(0.68,0.113),(0.88,-0.06),(1.04,-0.06),(1.35,-0.041),(1.66,-0.07),(0.6,0.05),(0.75,0.02),(0.75,0.15),(0.8,0.19)]

# dashed reference lines (visible end points)
a_line = ([7, 80], [0.197, 0.552])
b_line = ([0, 8], [0.028, 0.552])
c_line = ([0.5, 4], [0.098, 0.604])
d_line = ([45, 80], [0.376, 0.546])
e_line = ([6.2, 8], [0.354, 0.413])
f_line = ([0.5, 4], [0.047, 0.638])

titles = ["n=109 \u03c1=0.49", "n=109 \u03c1=0.44", "n=109 \u03c1=0.59",
          "n=545 \u03c1=0.55", "n=545 \u03c1=0.32", "n=545 \u03c1=0.63"]
letters = ["A", "B", "C", "D", "E", "F"]
letter_bold = [False, True, False, True, False, True]
xlabels = ["Firing rate (spikes/sec)", "LFP power (arb. units)", "CV"]
ylabel = "Estimation accuracy (<i>r</i>)"

fr_ticks = [0, 10, 20, 30, 40, 50, 60, 70, 80]
fr_text = ["0", "", "20", "", "40", "", "60", "", "80"]
lfp_ticks = [0, 1, 2, 3, 4, 5, 6, 7, 8]
lfp_text = ["0", "", "2", "", "4", "", "6", "", "8"]
cv_ticks = [1, 2, 3, 4]
cv_text = ["1", "2", "3", "4"]
y_ticks = [0, 0.1, 0.2, 0.3, 0.4, 0.5, 0.6]
y_text = ["0", "0.1", "0.2", "0.3", "0.4", "0.5", "0.6"]

# ---------------- layout geometry ----------------
W, H = 947, 1082
FONT = "Liberation Sans, Arial, Helvetica, sans-serif"
col_px = [(102, 312), (416, 625), (730, 938)]
row_px = [(75, 463), (617, 1005)]
x_ranges = [[0, 80], [0, 8], [0.5, 4]]
y_ranges = [[0, 0.604], [-0.071, 0.635]]
x_tick_sets = [(fr_ticks, fr_text), (lfp_ticks, lfp_text), (cv_ticks, cv_text)]

pts_all = [a_pts, b_pts, c_pts, d_pts, e_pts, f_pts]
lines_all = [a_line, b_line, c_line, d_line, e_line, f_line]

fig = go.Figure()
layout = dict(width=W, height=H, margin=dict(l=0, r=0, t=0, b=0),
              paper_bgcolor="white", plot_bgcolor="white", showlegend=False,
              font=dict(family=FONT, color="#1a1a1a"))
annotations = []
AX = "#555555"

for i in range(6):
    r, c = divmod(i, 3)
    sfx = "" if i == 0 else str(i + 1)
    xa, ya = "x" + sfx, "y" + sfx
    lx, ly = lines_all[i]
    fig.add_trace(go.Scatter(x=lx, y=ly, mode="lines", xaxis=xa, yaxis=ya,
                             line=dict(color="#808080", width=1.2, dash="9px,8px"),
                             hoverinfo="skip"))
    px_ = [p[0] for p in pts_all[i]]
    py_ = [p[1] for p in pts_all[i]]
    fig.add_trace(go.Scatter(x=px_, y=py_, mode="markers", xaxis=xa, yaxis=ya,
                             cliponaxis=False,
                             marker=dict(symbol="circle", size=15, color="rgba(255,255,255,0)",
                                         line=dict(color="#111111", width=1.1))))
    x0, x1 = col_px[c]
    y0, y1 = row_px[r]
    tv, tt = x_tick_sets[c]
    ycol = "#222222" if c == 0 else AX
    layout["xaxis" + sfx] = dict(domain=[x0 / W, x1 / W], range=x_ranges[c], anchor=ya,
                                 showline=True, linecolor=AX, linewidth=1.2,
                                 ticks="outside", ticklen=5, tickcolor=AX, tickwidth=1,
                                 tickvals=tv, ticktext=tt, showgrid=False, zeroline=False,
                                 tickfont=dict(size=24, family=FONT, color="#1a1a1a"))
    layout["yaxis" + sfx] = dict(domain=[1 - y1 / H, 1 - y0 / H], range=y_ranges[r], anchor=xa,
                                 showline=True, linecolor=ycol, linewidth=1.2,
                                 ticks="outside", ticklen=4, tickcolor=ycol, tickwidth=1,
                                 tickvals=y_ticks, ticktext=y_text, showgrid=False, zeroline=False,
                                 tickfont=dict(size=24, family=FONT, color="#1a1a1a"))
    title_y = 47 if r == 0 else 588
    annotations.append(dict(text=titles[i], x=(x0 + x1) / 2 / W - 5 / W, y=1 - title_y / H,
                            xref="paper", yref="paper", showarrow=False,
                            xanchor="center", yanchor="middle",
                            font=dict(size=24, family=FONT, color="#1a1a1a")))
    let_x = [30, 351, 670][c]
    let_y = 22 if r == 0 else 564
    txt = "<b>%s</b>" % letters[i] if letter_bold[i] else letters[i]
    annotations.append(dict(text=txt, x=let_x / W, y=1 - let_y / H, xref="paper", yref="paper",
                            showarrow=False, xanchor="center", yanchor="middle",
                            font=dict(size=32, family=FONT, color="#111111")))
    xl_y = 520 if r == 0 else 1060
    annotations.append(dict(text=xlabels[c], x=((x0 + x1) / 2) / W, y=1 - xl_y / H,
                            xref="paper", yref="paper", showarrow=False,
                            xanchor="center", yanchor="middle",
                            font=dict(size=25, family=FONT, color="#1a1a1a")))
    if c == 0:
        annotations.append(dict(text=ylabel, x=30 / W, y=1 - ((y0 + y1) / 2) / H,
                                xref="paper", yref="paper", showarrow=False, textangle=-90,
                                xanchor="center", yanchor="middle",
                                font=dict(size=25, family=FONT, color="#1a1a1a")))

layout["annotations"] = annotations
fig.update_layout(**layout)
fig.write_html("out.html")
